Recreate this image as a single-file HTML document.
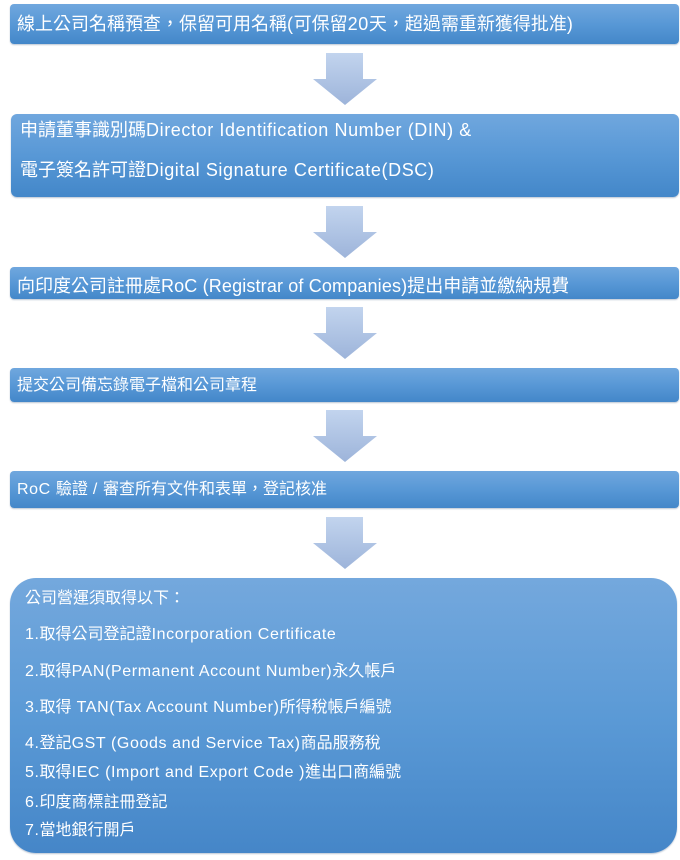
<!DOCTYPE html>
<html lang="zh-Hant-TW">
<head>
<meta charset="utf-8">
<style>
  html,body{margin:0;padding:0;}
  body{width:680px;height:860px;position:relative;background:#fff;overflow:hidden;
    font-family:"Liberation Sans","Noto Sans CJK TC",sans-serif;color:#fff;}
  .box{position:absolute;background:linear-gradient(to bottom,#70a7de 0%,#5898d6 50%,#4387c9 100%);
    box-shadow:0 1px 1.5px rgba(60,90,130,0.35);}
  .t{position:absolute;white-space:nowrap;line-height:24px;height:24px;color:#fff;}
  .s18{font-size:18px;}
  .s16{font-size:16px;}
  .l{letter-spacing:0.6px;}
  .l2{letter-spacing:0.15px;}
  svg{position:absolute;left:0;top:0;}
</style>
</head>
<body>
<div class="box" style="left:10px;top:4px;width:669px;height:40px;border-radius:4px;"></div>
<div class="box" style="left:11px;top:114px;width:668px;height:83px;border-radius:6px;"></div>
<div class="box" style="left:10px;top:267px;width:669px;height:32px;border-radius:4px;"></div>
<div class="box" style="left:10px;top:368px;width:669px;height:34px;border-radius:4px;"></div>
<div class="box" style="left:10px;top:471px;width:669px;height:37px;border-radius:4px;"></div>
<div class="box" style="left:10px;top:578px;width:667px;height:275px;border-radius:26px;background:linear-gradient(to bottom,#74a8dd 0%,#5b9ad6 50%,#4586c8 100%);"></div>

<svg width="680" height="860" viewBox="0 0 680 860">
  <defs>
    <linearGradient id="ag" x1="0" y1="0" x2="0" y2="1">
      <stop offset="0" stop-color="#c2d4ee"/>
      <stop offset="1" stop-color="#9db4da"/>
    </linearGradient>
  </defs>
  <g fill="url(#ag)">
    <polygon points="326,53 363,53 363,79 377,79 345,105 313,79 326,79"/>
    <polygon points="326,206 363,206 363,232 377,232 345,258 313,232 326,232"/>
    <polygon points="326,307 363,307 363,333 377,333 345,359 313,333 326,333"/>
    <polygon points="326,410 363,410 363,436 377,436 345,462 313,436 326,436"/>
    <polygon points="326,517 363,517 363,543 377,543 345,569 313,543 326,543"/>
  </g>
</svg>

<div class="t s18" style="left:17px;top:12px;">線上公司名稱預查，保留可用名稱<span class="l">(</span>可保留<span class="l">20</span>天，超過需重新獲得批准<span class="l">)</span></div>

<div class="t s18" style="left:20px;top:118px;">申請董事識別碼<span class="l">Director Identification Number (DIN) &amp;</span></div>
<div class="t s18" style="left:20px;top:158px;">電子簽名許可證<span class="l">Digital Signature Certificate(DSC)</span></div>

<div class="t s18" style="left:17px;top:274px;">向印度公司註冊處<span class="l2">RoC (Registrar of Companies)</span>提出申請並繳納規費</div>

<div class="t s16" style="left:17px;top:374px;">提交公司備忘錄電子檔和公司章程</div>

<div class="t s16" style="left:17px;top:478px;"><span class="l">RoC </span>驗證<span class="l"> / </span>審查所有文件和表單，登記核准</div>

<div class="t s16" style="left:25px;top:587px;">公司營運須取得以下：</div>
<div class="t s16" style="left:25px;top:623px;"><span class="l">1.</span>取得公司登記證<span class="l">Incorporation Certificate</span></div>
<div class="t s16" style="left:25px;top:660px;"><span class="l">2.</span>取得<span class="l">PAN(Permanent Account Number)</span>永久帳戶</div>
<div class="t s16" style="left:25px;top:696px;"><span class="l">3.</span>取得<span class="l"> TAN(Tax Account Number)</span>所得稅帳戶編號</div>
<div class="t s16" style="left:25px;top:732px;"><span class="l">4.</span>登記<span class="l">GST (Goods and Service Tax)</span>商品服務稅</div>
<div class="t s16" style="left:25px;top:761px;"><span class="l">5.</span>取得<span class="l">IEC (Import and Export Code )</span>進出口商編號</div>
<div class="t s16" style="left:25px;top:791px;"><span class="l">6.</span>印度商標註冊登記</div>
<div class="t s16" style="left:25px;top:819px;"><span class="l">7.</span>當地銀行開戶</div>
</body>
</html>
